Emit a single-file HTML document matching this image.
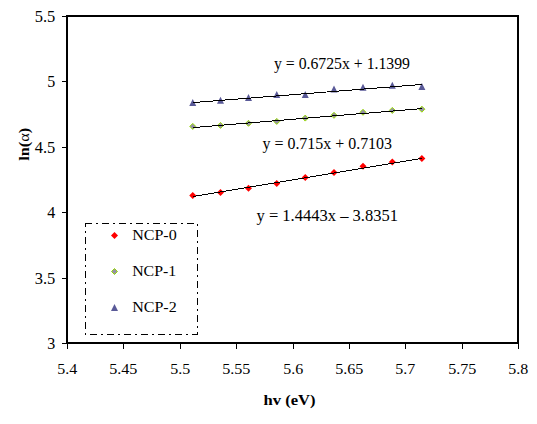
<!DOCTYPE html>
<html><head><meta charset="utf-8"><style>
html,body{margin:0;padding:0;background:#fff;width:537px;height:424px;overflow:hidden}
svg{display:block}
text{font-family:"Liberation Serif",serif;fill:#000}
</style></head><body>
<svg width="537" height="424" viewBox="0 0 537 424">
<rect width="537" height="424" fill="#fff"/>
<g shape-rendering="crispEdges" fill="#000">
<rect x="66" y="15" width="453" height="2"/>
<rect x="66" y="342" width="453" height="2"/>
<rect x="66" y="15" width="2" height="329"/>
<rect x="517" y="15" width="2" height="329"/>
<rect x="62" y="16" width="5" height="1"/><rect x="62" y="81" width="5" height="1"/><rect x="62" y="147" width="5" height="1"/><rect x="62" y="212" width="5" height="1"/><rect x="62" y="278" width="5" height="1"/><rect x="62" y="343" width="5" height="1"/><rect x="67" y="344" width="1" height="5"/><rect x="123" y="344" width="1" height="5"/><rect x="180" y="344" width="1" height="5"/><rect x="236" y="344" width="1" height="5"/><rect x="293" y="344" width="1" height="5"/><rect x="349" y="344" width="1" height="5"/><rect x="405" y="344" width="1" height="5"/><rect x="462" y="344" width="1" height="5"/><rect x="518" y="344" width="1" height="5"/>
</g>
<g><path d="M192.78,192.00L196.28,195.50L192.78,199.00L189.28,195.50Z" fill="#ff0000"/><path d="M220.52,189.10L224.02,192.60L220.52,196.10L217.02,192.60Z" fill="#ff0000"/><path d="M248.51,184.80L252.01,188.30L248.51,191.80L245.01,188.30Z" fill="#ff0000"/><path d="M276.75,179.90L280.25,183.40L276.75,186.90L273.25,183.40Z" fill="#ff0000"/><path d="M305.24,173.90L308.74,177.40L305.24,180.90L301.74,177.40Z" fill="#ff0000"/><path d="M334.00,169.00L337.50,172.50L334.00,176.00L330.50,172.50Z" fill="#ff0000"/><path d="M363.02,162.70L366.52,166.20L363.02,169.70L359.52,166.20Z" fill="#ff0000"/><path d="M392.30,158.60L395.80,162.10L392.30,165.60L388.80,162.10Z" fill="#ff0000"/><path d="M421.86,155.00L425.36,158.50L421.86,162.00L418.36,158.50Z" fill="#ff0000"/><path d="M192.78,123.40L195.78,126.40L192.78,129.40L189.78,126.40Z" fill="#9590a8" stroke="#99dd00" stroke-width="1"/><path d="M220.52,122.40L223.52,125.40L220.52,128.40L217.52,125.40Z" fill="#9590a8" stroke="#99dd00" stroke-width="1"/><path d="M248.51,120.30L251.51,123.30L248.51,126.30L245.51,123.30Z" fill="#9590a8" stroke="#99dd00" stroke-width="1"/><path d="M276.75,118.40L279.75,121.40L276.75,124.40L273.75,121.40Z" fill="#9590a8" stroke="#99dd00" stroke-width="1"/><path d="M305.24,115.10L308.24,118.10L305.24,121.10L302.24,118.10Z" fill="#9590a8" stroke="#99dd00" stroke-width="1"/><path d="M334.00,112.30L337.00,115.30L334.00,118.30L331.00,115.30Z" fill="#9590a8" stroke="#99dd00" stroke-width="1"/><path d="M363.02,109.30L366.02,112.30L363.02,115.30L360.02,112.30Z" fill="#9590a8" stroke="#99dd00" stroke-width="1"/><path d="M392.30,107.40L395.30,110.40L392.30,113.40L389.30,110.40Z" fill="#9590a8" stroke="#99dd00" stroke-width="1"/><path d="M421.86,106.20L424.86,109.20L421.86,112.20L418.86,109.20Z" fill="#9590a8" stroke="#99dd00" stroke-width="1"/><path d="M192.78,98.90L196.28,105.90L189.28,105.90Z" fill="#5a5a98"/><path d="M220.52,96.80L224.02,103.80L217.02,103.80Z" fill="#5a5a98"/><path d="M248.51,94.00L252.01,101.00L245.01,101.00Z" fill="#5a5a98"/><path d="M276.75,91.00L280.25,98.00L273.25,98.00Z" fill="#5a5a98"/><path d="M305.24,91.00L308.74,98.00L301.74,98.00Z" fill="#5a5a98"/><path d="M334.00,85.60L337.50,92.60L330.50,92.60Z" fill="#5a5a98"/><path d="M363.02,83.70L366.52,90.70L359.52,90.70Z" fill="#5a5a98"/><path d="M392.30,81.70L395.80,88.70L388.80,88.70Z" fill="#5a5a98"/><path d="M421.86,82.90L425.36,89.90L418.36,89.90Z" fill="#5a5a98"/></g>
<g shape-rendering="crispEdges"><line x1="192.78" y1="196.55" x2="421.86" y2="158.32" stroke="#000" stroke-width="1"/><line x1="192.78" y1="127.58" x2="421.86" y2="108.58" stroke="#000" stroke-width="1"/><line x1="192.78" y1="102.58" x2="421.86" y2="84.47" stroke="#000" stroke-width="1"/></g>
<g font-size="15"><text x="55.3" y="21.5" text-anchor="end" font-size="16" textLength="20.6" lengthAdjust="spacingAndGlyphs">5.5</text><text x="55.3" y="86.5" text-anchor="end" font-size="16">5</text><text x="55.3" y="152.5" text-anchor="end" font-size="16" textLength="20.6" lengthAdjust="spacingAndGlyphs">4.5</text><text x="55.3" y="217.5" text-anchor="end" font-size="16">4</text><text x="55.3" y="283.5" text-anchor="end" font-size="16" textLength="20.6" lengthAdjust="spacingAndGlyphs">3.5</text><text x="55.3" y="348.5" text-anchor="end" font-size="16">3</text><text x="67.3" y="374" text-anchor="middle" font-size="15.5" textLength="20" lengthAdjust="spacingAndGlyphs">5.4</text><text x="123.3" y="374" text-anchor="middle" font-size="15.5" textLength="28.3" lengthAdjust="spacingAndGlyphs">5.45</text><text x="180.3" y="374" text-anchor="middle" font-size="15.5" textLength="20" lengthAdjust="spacingAndGlyphs">5.5</text><text x="236.3" y="374" text-anchor="middle" font-size="15.5" textLength="28.3" lengthAdjust="spacingAndGlyphs">5.55</text><text x="293.3" y="374" text-anchor="middle" font-size="15.5" textLength="20" lengthAdjust="spacingAndGlyphs">5.6</text><text x="349.3" y="374" text-anchor="middle" font-size="15.5" textLength="28.3" lengthAdjust="spacingAndGlyphs">5.65</text><text x="405.3" y="374" text-anchor="middle" font-size="15.5" textLength="20" lengthAdjust="spacingAndGlyphs">5.7</text><text x="462.3" y="374" text-anchor="middle" font-size="15.5" textLength="28.3" lengthAdjust="spacingAndGlyphs">5.75</text><text x="518.3" y="374" text-anchor="middle" font-size="15.5" textLength="20" lengthAdjust="spacingAndGlyphs">5.8</text></g>
<g font-size="16">
<text x="274" y="69" textLength="136" lengthAdjust="spacingAndGlyphs">y = 0.6725x + 1.1399</text>
<text x="262.5" y="149" textLength="129.5" lengthAdjust="spacingAndGlyphs">y = 0.715x + 0.7103</text>
<text x="256.5" y="221" textLength="141.5" lengthAdjust="spacingAndGlyphs">y = 1.4443x &#8211; 3.8351</text>
</g>
<g font-size="16" font-weight="bold">
<text x="263.5" y="404.5" font-size="15" textLength="52" lengthAdjust="spacingAndGlyphs">hv (eV)</text>
<text transform="translate(28.6,160.8) rotate(-90)" font-size="15" textLength="33" lengthAdjust="spacingAndGlyphs">ln(<tspan font-weight="normal">&#945;</tspan>)</text>
</g>
<g fill="none" stroke="#000" stroke-width="1" stroke-dasharray="7 4 2 4" shape-rendering="crispEdges">
<path d="M85,223.5H198"/>
<path d="M197.5,224V335" stroke-dashoffset="11"/>
<path d="M85,334.5H198" stroke-dashoffset="12"/>
<path d="M85.5,223V335" stroke-dashoffset="3"/>
</g>
<path d="M114.50,232.00L118.00,235.50L114.50,239.00L111.00,235.50Z" fill="#ff0000"/>
<path d="M114.50,268.50L117.50,271.50L114.50,274.50L111.50,271.50Z" fill="#9590a8" stroke="#99dd00" stroke-width="1"/>
<path d="M114.50,304.00L118.00,311.00L111.00,311.00Z" fill="#5a5a98"/>
<g font-size="15.4">
<text x="132.2" y="240.2" textLength="44.5" lengthAdjust="spacingAndGlyphs">NCP-0</text>
<text x="132.2" y="276.2" textLength="44" lengthAdjust="spacingAndGlyphs">NCP-1</text>
<text x="132.2" y="312.3" textLength="44.5" lengthAdjust="spacingAndGlyphs">NCP-2</text>
</g>
</svg>
</body></html>
